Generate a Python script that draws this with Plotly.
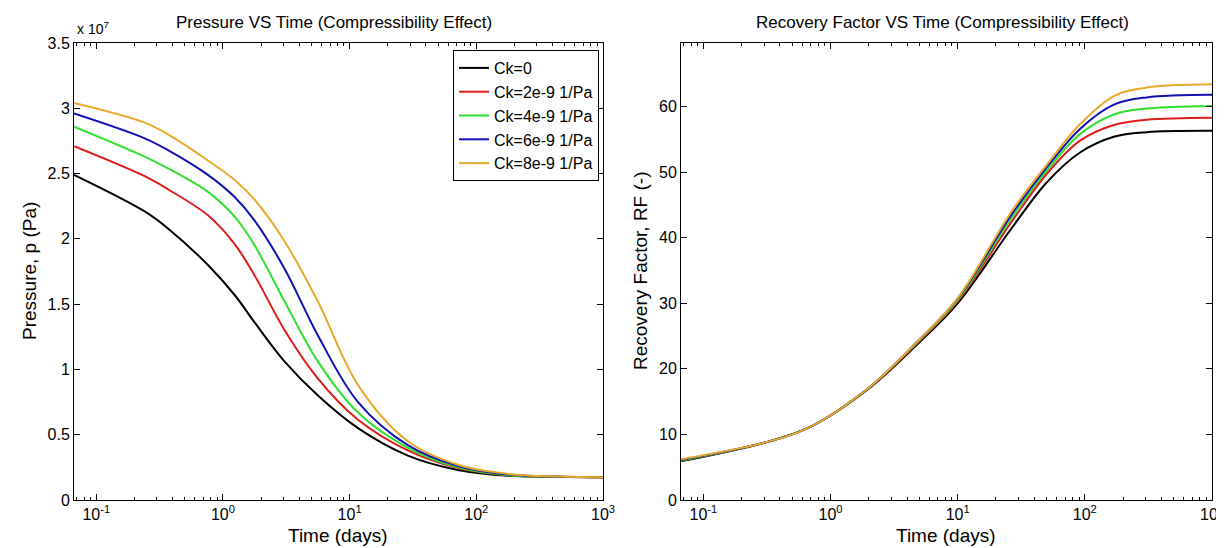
import numpy as np
import plotly.graph_objects as go

# ---------------- data ----------------
series_names = ["Ck=0", "Ck=2e-9 1/Pa", "Ck=4e-9 1/Pa", "Ck=6e-9 1/Pa", "Ck=8e-9 1/Pa"]
series_colors = ["#000000", "#e01b1b", "#2fe02f", "#1212b4", "#e8a92a"]

# Pressure vs time (Pa)
t_pressure = [0.0667, 0.241, 0.368, 0.761, 1.237, 1.778, 3.07, 5.62, 11.65, 28.8, 71.5, 177.6, 441, 1000]
p_ck0 = [2.49e7, 2.21e7, 2.08e7, 1.80e7, 1.57e7, 1.36e7, 1.06e7, 0.80e7, 0.55e7, 0.34e7, 0.23e7, 0.185e7, 0.178e7, 0.175e7]
p_ck2 = [2.71e7, 2.48e7, 2.38e7, 2.18e7, 1.96e7, 1.72e7, 1.30e7, 0.93e7, 0.615e7, 0.38e7, 0.245e7, 0.19e7, 0.178e7, 0.175e7]
p_ck4 = [2.86e7, 2.63e7, 2.54e7, 2.36e7, 2.17e7, 1.95e7, 1.52e7, 1.06e7, 0.67e7, 0.40e7, 0.25e7, 0.19e7, 0.178e7, 0.175e7]
p_ck6 = [2.96e7, 2.77e7, 2.68e7, 2.49e7, 2.32e7, 2.14e7, 1.77e7, 1.26e7, 0.75e7, 0.42e7, 0.26e7, 0.195e7, 0.179e7, 0.175e7]
p_ck8 = [3.04e7, 2.89e7, 2.80e7, 2.60e7, 2.45e7, 2.30e7, 1.98e7, 1.52e7, 0.88e7, 0.45e7, 0.27e7, 0.20e7, 0.18e7, 0.175e7]

# Recovery factor vs time (-)
t_rf = [0.0667, 0.324, 0.70, 1.97, 4.84, 10, 26.9, 50.5, 91.6, 169, 306, 1000]
rf_ck0 = [5.9, 8.9, 11.2, 16.9, 23.8, 30.0, 41.6, 48.5, 53.0, 55.4, 56.1, 56.3]
rf_ck2 = [6.0, 8.9, 11.2, 17.0, 24.0, 30.3, 42.6, 49.8, 54.8, 57.2, 58.0, 58.3]
rf_ck4 = [6.0, 8.9, 11.2, 17.0, 24.1, 30.5, 43.2, 50.3, 55.8, 58.8, 59.7, 60.1]
rf_ck6 = [6.1, 8.9, 11.2, 17.0, 24.2, 30.7, 43.7, 50.8, 56.6, 60.3, 61.4, 61.8]
rf_ck8 = [6.2, 8.9, 11.2, 17.0, 24.2, 30.8, 44.2, 51.2, 57.3, 61.6, 62.9, 63.4]

x_tickvals = [0.1, 1, 10, 100, 1000]
x_ticktext = ["10<sup>-1</sup>", "10<sup>0</sup>", "10<sup>1</sup>", "10<sup>2</sup>", "10<sup>3</sup>"]
p_tickvals = [0, 0.5e7, 1e7, 1.5e7, 2e7, 2.5e7, 3e7, 3.5e7]
p_ticktext = ["0", "0.5", "1", "1.5", "2", "2.5", "3", "3.5"]
rf_tickvals = [0, 10, 20, 30, 40, 50, 60]

# ---------------- figure ----------------
W, H = 1224, 548
FONT = "Liberation Sans, Arial, Helvetica, sans-serif"

fig = go.Figure()
p_series = [p_ck0, p_ck2, p_ck4, p_ck6, p_ck8]
rf_series = [rf_ck0, rf_ck2, rf_ck4, rf_ck6, rf_ck8]
for name, color, ys in zip(series_names, series_colors, p_series):
    fig.add_trace(go.Scatter(x=t_pressure, y=ys, mode="lines", name=name,
                             line=dict(color=color, width=2, shape="spline", smoothing=1.0),
                             xaxis="x", yaxis="y"))
for name, color, ys in zip(series_names, series_colors, rf_series):
    fig.add_trace(go.Scatter(x=t_rf, y=ys, mode="lines", name=name, showlegend=False,
                             line=dict(color=color, width=2, shape="spline", smoothing=1.0),
                             xaxis="x2", yaxis="y2"))

minor_vals = [m * 10.0 ** e for e in range(-2, 3) for m in range(2, 10)]
TICKFONT = dict(size=16, color="black", family=FONT)

def xaxis_cfg(domain, anchor):
    return dict(type="log", domain=domain, anchor=anchor,
                range=[np.log10(0.0667), 3],
                tickmode="array", tickvals=x_tickvals, ticktext=x_ticktext,
                ticks="inside", ticklen=6, tickcolor="black", tickwidth=1,
                minor=dict(tickmode="array", tickvals=minor_vals, ticks="inside",
                           ticklen=3, tickcolor="black", showgrid=False),
                showline=True, linecolor="black", linewidth=1, mirror="allticks",
                showgrid=False, zeroline=False, automargin=False,
                tickfont=TICKFONT)

def yaxis_cfg(domain, anchor, rng, tv, tt):
    return dict(domain=domain, anchor=anchor, range=rng,
                tickmode="array", tickvals=tv, ticktext=tt,
                ticks="inside", ticklen=6, tickcolor="black", tickwidth=1,
                showline=True, linecolor="black", linewidth=1, mirror="allticks",
                showgrid=False, zeroline=False, automargin=False,
                tickfont=TICKFONT)

ydom = [(H - 492) / H, (H - 35) / H]
x1dom = [66 / W, 595 / W]
x2dom = [673 / W, 1204 / W]

fig.update_layout(
    width=W, height=H,
    margin=dict(l=0, r=0, t=0, b=0),
    paper_bgcolor="white", plot_bgcolor="white",
    font=dict(family=FONT, color="black", size=16),
    xaxis=xaxis_cfg(x1dom, "y"),
    yaxis=yaxis_cfg(ydom, "x", [0, 3.5e7], p_tickvals, p_ticktext),
    xaxis2=xaxis_cfg(x2dom, "y2"),
    yaxis2=yaxis_cfg(ydom, "x2", [0, 69.7], rf_tickvals, [str(v) for v in rf_tickvals]),
    legend=dict(x=591 / W, xanchor="right", y=(H - 42) / H, yanchor="top",
                bgcolor="white", bordercolor="black", borderwidth=1,
                font=dict(size=16, color="black", family=FONT),
                tracegroupgap=0, itemwidth=30),
    showlegend=True,
)

def ann(text, x, y, size=16, angle=0, xanchor="center", yanchor="middle"):
    fig.add_annotation(text=text, x=x / W, y=1 - y / H, xref="paper", yref="paper",
                       showarrow=False, textangle=angle, xanchor=xanchor, yanchor=yanchor,
                       font=dict(size=size, color="black", family=FONT))

ann("Pressure VS Time (Compressibility Effect)", 326, 15, size=17)
ann("Recovery Factor VS Time (Compressibility Effect)", 935, 15, size=17)
ann("Time (days)", 330, 527, size=19)
ann("Time (days)", 938, 527, size=19)
ann("Pressure, p (Pa)", 21, 263, size=19, angle=-90)
ann("Recovery Factor, RF (-)", 632, 263, size=19, angle=-90)
ann("x 10<sup>7</sup>", 67, 20, size=14, xanchor="left")

fig.write_html("out.html")
